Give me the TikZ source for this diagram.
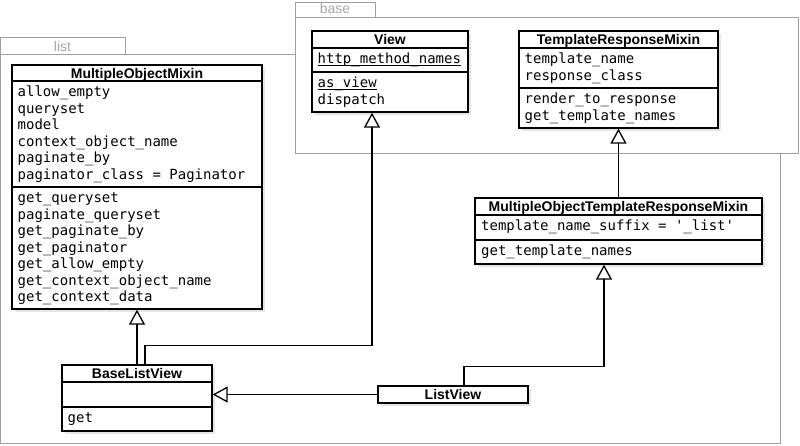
\documentclass[tikz,border=0pt]{standalone}
\usepackage{fontspec}
\setmainfont{Liberation Sans}
\newfontfamily\monof{DejaVu Sans Mono}
\usetikzlibrary{arrows.meta,shadows}
\definecolor{pkggray}{HTML}{A0A0A0}
\definecolor{pkgtext}{HTML}{A8A8A8}
\newcommand\myul[1]{\setbox0\hbox{#1}\rlap{\rule[-2.2pt]{\wd0}{0.8pt}}\box0}
\tikzset{
 pkg/.style={draw=pkggray, fill=white, line width=1pt},
 pkglabel/.style={text=pkgtext, font=\fontsize{14}{16}\selectfont, anchor=base, inner sep=0pt},
 cls/.style={draw=black, fill=white, line width=1.3pt, inner sep=0pt,
   drop shadow={shadow xshift=2.5pt, shadow yshift=-2.5pt, opacity=0.2}},
 hdr/.style={font=\fontsize{14}{16}\selectfont\bfseries, anchor=base, inner sep=0pt},
 mem/.style={font=\fontsize{14}{16.5}\monof, anchor=north west, inner sep=0pt, align=left},
 sepline/.style={line width=1.3pt},
 inh/.style={line width=1.3pt, -{Triangle[open, length=15pt, width=16pt]}},
}
\begin{document}
\begin{tikzpicture}[x=1pt,y=-1pt]
\useasboundingbox (0,0) rectangle (800,445);
\fill[white] (0,0) rectangle (800,445);
% packages
\draw[pkg] (0.5,37) rectangle (125,54);
\draw[pkg] (0.5,54) rectangle (780,443);
\node[pkglabel] (listlbl) at (62.5,51.5) {list};
\draw[pkg] (295,2) rectangle (375,17);
\draw[pkg] (295,17) rectangle (798,153);
\node[pkglabel] (baselbl) at (335,13.5) {base};
% MultipleObjectMixin
\node[cls, minimum width=250pt, minimum height=244pt] (mom) at (137,187) {};
\draw[sepline] (12,81) -- (262,81);
\draw[sepline] (12,187) -- (262,187);
\node[hdr] (momh) at (137,78.5) {MultipleObjectMixin};
\node[mem] (moma) at (17.5,85.5) {\rule{0pt}{11pt}allow\_empty\\queryset\\model\\context\_object\_name\\paginate\_by\\paginator\_class = Paginator};
\node[mem] (momm) at (17.5,191.5) {\rule{0pt}{11pt}get\_queryset\\paginate\_queryset\\get\_paginate\_by\\get\_paginator\\get\_allow\_empty\\get\_context\_object\_name\\get\_context\_data};
% View
\node[cls, minimum width=156pt, minimum height=81pt] (view) at (390,71.5) {};
\draw[sepline] (312,48) -- (468,48);
\draw[sepline] (312,72) -- (468,72);
\node[hdr] (viewh) at (390,44.5) {View};
\node[mem] (viewa) at (317.5,52.5) {\rule{0pt}{11pt}\myul{http\_method\_names}};
\node[mem] (viewm) at (317.5,76.5) {\rule{0pt}{11pt}\myul{as\_view}\\dispatch};
% TemplateResponseMixin
\node[cls, minimum width=199pt, minimum height=97pt] (trm) at (618.5,79.5) {};
\draw[sepline] (519,48) -- (718,48);
\draw[sepline] (519,88) -- (718,88);
\node[hdr] (trmh) at (618.5,44.5) {TemplateResponseMixin};
\node[mem] (trma) at (524.5,52.5) {\rule{0pt}{11pt}template\_name\\response\_class};
\node[mem] (trmm) at (524.5,92.5) {\rule{0pt}{11pt}render\_to\_response\\get\_template\_names};
% MultipleObjectTemplateResponseMixin
\node[cls, minimum width=287pt, minimum height=66pt] (motrm) at (618.5,231) {};
\draw[sepline] (475,215) -- (762,215);
\draw[sepline] (475,240) -- (762,240);
\node[hdr] (motrmh) at (618.5,211.5) {MultipleObjectTemplateResponseMixin};
\node[mem] (motrma) at (481,219.5) {\rule{0pt}{11pt}template\_name\_suffix = '\_list'};
\node[mem] (motrmm) at (481,244.5) {\rule{0pt}{11pt}get\_template\_names};
% BaseListView
\node[cls, minimum width=150pt, minimum height=66pt] (blv) at (137,398) {};
\draw[sepline] (62,382) -- (212,382);
\draw[sepline] (62,407) -- (212,407);
\node[hdr] (blvh) at (137,378.5) {BaseListView};
\node[mem] (blvm) at (67.5,411.5) {\rule{0pt}{11pt}get};
% ListView
\node[cls, minimum width=150pt, minimum height=17pt] (lv) at (453,394.5) {};
\node[hdr] (lvh) at (453,399.5) {ListView};
% connectors
\draw[inh] (blv.north) -- (mom.south);
\draw[inh] ([xshift=8pt]blv.north) -- ++(0,-19) -| ([xshift=-18pt]view.south);
\draw[inh] (lv.west) -- (lv.west -| blv.east);
\draw[inh] ([xshift=11pt]lv.north) -- ++(0,-19) -| ([xshift=-14.5pt]motrm.south);
\draw[inh] (motrm.north) -- (trm.south);
\end{tikzpicture}
\end{document}
